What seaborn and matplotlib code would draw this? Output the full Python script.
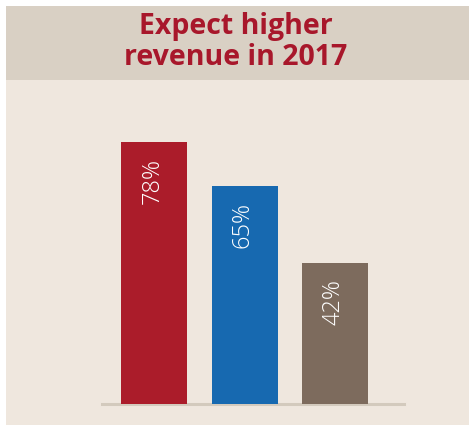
import matplotlib
matplotlib.use("Agg")
import matplotlib.pyplot as plt
import pandas as pd
import seaborn as sns
from matplotlib.patches import Rectangle

# data
categories = ["A", "B", "C"]
values = [78, 65, 42]
labels = ["78%", "65%", "42%"]
colors = ["#ab1c2a", "#1769b0", "#7d6b5d"]

W, H = 469, 425
fig = plt.figure(figsize=(W / 100, H / 100), dpi=100)
fig.patch.set_facecolor("white")

# background panels
bg = fig.add_axes([0, 0, 1, 1])
bg.set_xlim(0, W)
bg.set_ylim(H, 0)
bg.axis("off")
bg.add_patch(Rectangle((6, 6), W - 6, H - 6, color="#efe7de", lw=0))
bg.add_patch(Rectangle((6, 6), W - 6, 74, color="#d9d0c4", lw=0))
bg.text(236, 42, "Expect higher\nrevenue in 2017", ha="center", va="center",
        fontsize=20.5, fontweight="bold", color="#a8172b", family="Open Sans",
        linespacing=1.05)

df = pd.DataFrame({"cat": categories, "val": values})

ax = fig.add_axes([102 / W, (H - 404) / H, 302 / W, 304 / H])
ax.set_facecolor("none")
sns.barplot(data=df, x="cat", y="val", hue="cat", palette=colors,
            width=0.73, saturation=1, legend=False, ax=ax, zorder=3)
ax.set_xlim(-0.575, 2.76)
ax.set_ylim(0, 90.5)
for s in ["top", "right", "left"]:
    ax.spines[s].set_visible(False)
ax.spines["bottom"].set_color("#d3cabd")
ax.spines["bottom"].set_linewidth(2.2)
ax.set_xticks([])
ax.set_yticks([])
ax.set_xlabel("")
ax.set_ylabel("")

for i, (v, lab) in enumerate(zip(values, labels)):
    ax.text(i - 0.02, v - 4.8, lab, rotation=90, ha="center", va="top",
            color="white", fontsize=17, family="Open Sans", fontweight="light")

fig.savefig("out.png", dpi=100)
